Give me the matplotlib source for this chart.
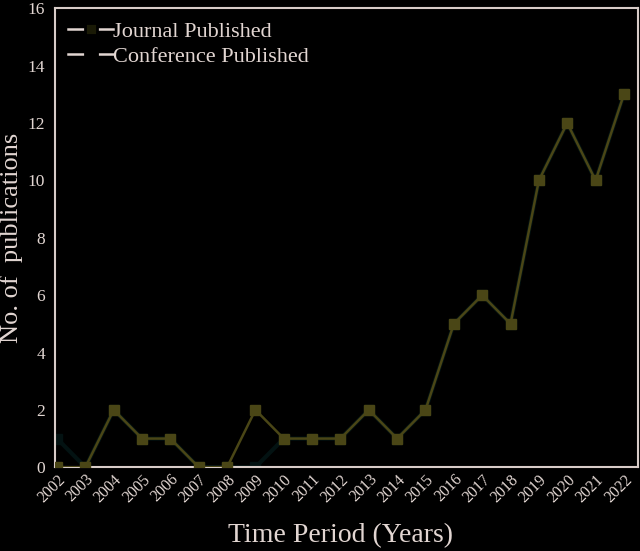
import numpy as np
import matplotlib
matplotlib.use("Agg")
import matplotlib.pyplot as plt
from matplotlib.lines import Line2D

years = list(range(2002, 2023))
journal = [0, 0, 2, 1, 1, 0, 0, 2, 1, 1, 1, 2, 1, 2, 5, 6, 5, 10, 12, 10, 13]
conference = [1, 0, 2, 1, 1, 0, 0, 0, 1, 1, 1, 2, 1, 2, 5, 6, 5, 10, 12, 10, 13]
yticks = [0, 2, 4, 6, 8, 10, 12, 14, 16]

txt = '#e2d6d2'
olive = '#4a4616'
teal = '#031212'

plt.rcParams['font.family'] = ['Liberation Serif', 'DejaVu Serif']

fig = plt.figure(figsize=(6.4, 5.51), dpi=100, facecolor='black')
ax = fig.add_axes([0.086, 0.152, 0.911, 0.833], facecolor='black')

# conference line sits under the journal one, nearly invisible
ax.plot(years, conference, color=teal, lw=3, marker='s', ms=7,
        mfc=teal, mec=teal, zorder=2)
ax.plot(years, journal, color=olive, lw=1.8, marker='s', ms=7,
        mfc=olive, mec=olive, zorder=3)

ax.set_xlim(2001.93, 2022.5)
ax.set_ylim(0, 16)
ax.set_yticks(yticks)
ax.set_xticks(years)
ax.set_xticklabels([str(y) for y in years], rotation=45, ha='right',
                   rotation_mode='anchor', fontsize=11.5, color=txt)
ax.tick_params(axis='y', colors=txt, labelsize=12.5, length=0, pad=7)
ax.tick_params(axis='x', colors=txt, length=0, pad=3)
for s in ax.spines.values():
    s.set_color('#d8ccc8')
    s.set_linewidth(1.5)

ax.set_xlabel('Time Period (Years)', fontsize=20, color=txt)
ax.xaxis.label.set_va('center')
ax.xaxis.set_label_coords(0.49, -0.148)
ax.set_ylabel('No. of  publications', fontsize=19, color=txt)
ax.yaxis.label.set_va('center')
ax.yaxis.set_label_coords(-0.074, 0.5)

handles = [
    Line2D([], [], color=txt, lw=1.8, marker='s', ms=8, mfc='#1a1a06', mec='black', mew=2),
    Line2D([], [], color=txt, lw=1.8, marker='s', ms=8, mfc='black', mec='black', mew=2),
]
leg = ax.legend(handles, ['Journal Published', 'Conference Published'],
                loc='upper left', frameon=False, fontsize=16,
                handlelength=2.0, handletextpad=0.0, borderaxespad=0.2,
                labelspacing=0.2)
for t in leg.get_texts():
    t.set_color(txt)

fig.savefig('out.png', dpi=100, facecolor='black')
